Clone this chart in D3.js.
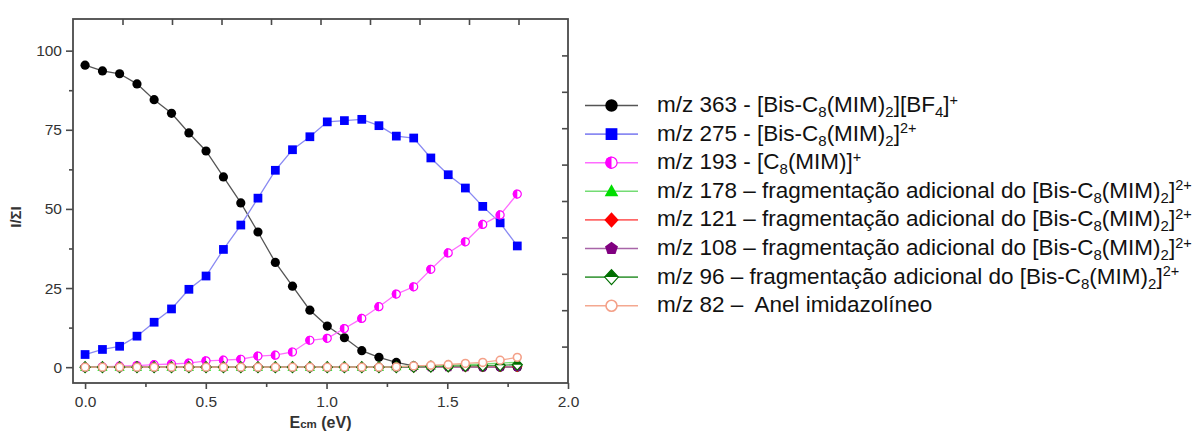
<!DOCTYPE html>
<html><head><meta charset="utf-8">
<script src="https://cdn.jsdelivr.net/npm/d3@7"></script>
<style>body{margin:0;background:#fff}svg{display:block}</style>
</head><body><svg id="c" width="1194" height="433"></svg>
<script>
// ---- data ----
const energies = [0,0.072,0.143,0.215,0.286,0.358,0.430,0.501,0.573,0.645,0.716,0.788,0.859,0.931,1.003,1.074,1.146,1.217,1.289,1.361,1.432,1.504,1.575,1.647,1.719,1.790];
const i363 = [95.4,93.6,92.7,89.5,84.5,80.2,74.0,68.3,60.1,51.9,42.7,33.1,25.6,18.0,13.0,9.3,5.2,3.1,1.5,0.4,0.2,0.1,0.1,0,0,0];
const i275 = [4.0,5.6,6.6,9.8,14.2,18.4,24.6,28.8,37.2,44.9,53.4,62.2,68.7,72.8,77.5,77.9,78.3,76.3,73.0,72.4,66.1,60.8,56.6,50.8,45.6,38.3];
const i193 = [0,0.1,0.3,0.5,0.8,1.0,1.3,2.0,2.2,2.5,3.5,3.8,4.8,8.5,9.1,12.2,15.4,19.1,23.1,25.4,30.9,36.1,39.6,45.1,48.1,54.7];
const i178 = [0,0,0,0,0,0,0,0,0,0,0,0,0,0,0,0,0,0,0.2,0.3,0.4,0.6,0.8,1.0,1.3,1.5];
const i121 = [0,0,0,0,0,0,0,0,0,0,0,0,0,0,0,0,0,0,0,0,0.1,0.1,0.1,0.2,0.2,0.2];
const i108 = [0,0,0,0,0,0,0,0,0,0,0,0,0,0,0,0,0,0,0,0,0,0,0,0,0.1,0.1];
const i96  = [0,0,0,0,0,0,0,0,0,0,0,0,0,0,0,0,0,0,0,0.1,0.2,0.3,0.4,0.5,0.6,0.8];
const i82  = [0,0,0,0,0,0,0,0,0,0,0,0,0,0,0,0,0,0,0.1,0.4,0.6,0.85,1.2,1.5,2.2,3.1];
const legendLabels = [
  "m/z 363 - [Bis-C_{8}(MIM)_{2}][BF_{4}]^{+}",
  "m/z 275 - [Bis-C_{8}(MIM)_{2}]^{2+}",
  "m/z 193 - [C_{8}(MIM)]^{+}",
  "m/z 178 – fragmentação adicional do [Bis-C_{8}(MIM)_{2}]^{2+}",
  "m/z 121 – fragmentação adicional do [Bis-C_{8}(MIM)_{2}]^{2+}",
  "m/z 108 – fragmentação adicional do [Bis-C_{8}(MIM)_{2}]^{2+}",
  "m/z 96 – fragmentação adicional do [Bis-C_{8}(MIM)_{2}]^{2+}",
  "m/z 82 –  Anel imidazolíneo"
];
const xTicks = [0.0,0.5,1.0,1.5,2.0];
const yTicks = [0,25,50,75,100];
const xTitle = ["E","cm"," (eV)"];
const yTitle = "I/ΣI";

// ---- styling ----
const seriesValues = [i363,i275,i193,i178,i121,i108,i96,i82];
const styles = [
  {m:"circle",     c:"#000000", l:"#555555"},
  {m:"square",     c:"#0000ff", l:"#8a8af2"},
  {m:"halfcircle", c:"#ff00ff", l:"#ff6cff"},
  {m:"triangle",   c:"#00dd00", l:"#74dc74"},
  {m:"diamond",    c:"#ff0000", l:"#ff6868"},
  {m:"pentagon",   c:"#800080", l:"#a865a8"},
  {m:"halfdiamond",c:"#006f00", l:"#4aa04a"},
  {m:"opencircle", c:"#f4a088", l:"#f4a890"}
];

const svg = d3.select("#c");
const L=73, R=568, T=19, B=383;
const x = d3.scaleLinear().domain([-0.05,2.0]).range([L,R]);
const y = d3.scaleLinear().domain([-5,110]).range([B,T]);

function marker(g, type, color, r){
  const s = g.append("g");
  if(type==="circle"){ s.append("circle").attr("r",r).attr("fill",color); }
  else if(type==="square"){ const a=r*0.95; s.append("rect").attr("x",-a).attr("y",-a).attr("width",2*a).attr("height",2*a).attr("fill",color); }
  else if(type==="halfcircle"){
    s.append("circle").attr("r",r-0.6).attr("fill","#fff").attr("stroke",color).attr("stroke-width",1.2);
    s.append("path").attr("d",`M0,${-r} A${r},${r} 0 0 0 0,${r} Z`).attr("fill",color);
  }
  else if(type==="triangle"){ s.append("path").attr("d",`M0,${-r*1.15} L${r*1.1},${r*0.8} L${-r*1.1},${r*0.8} Z`).attr("fill",color); }
  else if(type==="diamond"){ s.append("path").attr("d",`M0,${-r*1.25} L${r*1.15},0 L0,${r*1.25} L${-r*1.15},0 Z`).attr("fill",color); }
  else if(type==="pentagon"){
    const pts=d3.range(5).map(k=>{const a=-Math.PI/2+k*2*Math.PI/5;return [Math.cos(a)*r*1.1,Math.sin(a)*r*1.1];});
    s.append("path").attr("d","M"+pts.map(p=>p.join(",")).join("L")+"Z").attr("fill",color);
  }
  else if(type==="halfdiamond"){
    const a=r*1.2,b=r*1.1;
    s.append("path").attr("d",`M0,${-a} L${b},0 L0,${a} L${-b},0 Z`).attr("fill","#fff").attr("stroke",color).attr("stroke-width",1.2);
    s.append("path").attr("d",`M0,${-a} L${b},0 L${-b},0 Z`).attr("fill",color);
  }
  else if(type==="opencircle"){ s.append("circle").attr("r",r-0.7).attr("fill","#fff").attr("stroke",color).attr("stroke-width",1.6); }
  return s;
}

// ---- series ----
const plot = svg.append("g");
const line = d3.line().x((d,i)=>x(energies[i])).y(d=>y(d));
seriesValues.forEach((vals,k)=>{
  const st=styles[k];
  plot.append("path").datum(vals).attr("d",line).attr("fill","none").attr("stroke",st.l).attr("stroke-width",1.3);
});
seriesValues.forEach((vals,k)=>{
  const st=styles[k];
  vals.forEach((v,i)=>{
    marker(plot, st.m, st.c, 4.6).attr("transform",`translate(${x(energies[i])},${y(v)})`);
  });
});

// ---- frame and axes ----
const axisColor="#4a4a4a";
svg.append("rect").attr("x",L).attr("y",T).attr("width",R-L).attr("height",B-T)
  .attr("fill","none").attr("stroke",axisColor).attr("stroke-width",1.8);

const gx = svg.append("g").attr("transform",`translate(0,${B})`)
  .call(d3.axisBottom(x).tickValues(xTicks).tickFormat(d3.format(".1f")).tickSize(6).tickPadding(7));
const gxm = svg.append("g").attr("transform",`translate(0,${B})`)
  .call(d3.axisBottom(x).tickValues([0.25,0.75,1.25,1.75]).tickFormat("").tickSize(4));
const gy = svg.append("g").attr("transform",`translate(${L},0)`)
  .call(d3.axisLeft(y).tickValues(yTicks).tickSize(7).tickPadding(4));
const gym = svg.append("g").attr("transform",`translate(${L},0)`)
  .call(d3.axisLeft(y).tickValues([12.5,37.5,62.5,87.5]).tickFormat("").tickSize(4));
// top and right inward ticks (10 divisions)
const xt = d3.scaleLinear().domain([0,10]).range([L,R]);
const yr = d3.scaleLinear().domain([0,10]).range([B,T]);
const gt = svg.append("g").attr("transform",`translate(0,${T})`)
  .call(d3.axisBottom(xt).tickValues(d3.range(1,10)).tickFormat("").tickSize(6));
const gr = svg.append("g").attr("transform",`translate(${R},0)`)
  .call(d3.axisLeft(yr).tickValues(d3.range(1,10)).tickFormat("").tickSize(6));
[gx,gxm,gy,gym,gt,gr].forEach(g=>{
  g.select(".domain").remove();
  g.selectAll("line").attr("stroke",axisColor).attr("stroke-width",1.6);
  g.selectAll("text").attr("fill","#333").style("font-family","Liberation Sans, Arial, sans-serif").style("font-size","15.5px");
});

// axis titles
const xt1 = svg.append("text").attr("x",(L+R)/2).attr("y",428).attr("text-anchor","middle")
  .style("font-family","Liberation Sans, Arial, sans-serif").style("font-weight","bold").attr("fill","#333");
xt1.append("tspan").style("font-size","16px").text(xTitle[0]);
xt1.append("tspan").style("font-size","11.5px").text(xTitle[1]);
xt1.append("tspan").style("font-size","16px").text(xTitle[2]);
svg.append("text").attr("transform","translate(21,217) rotate(-90)").attr("text-anchor","middle")
  .style("font-family","Liberation Sans, Arial, sans-serif").style("font-weight","bold").style("font-size","15px")
  .attr("fill","#333").text(yTitle);

// ---- legend ----
const leg = svg.append("g");
const rowY0 = 105.5, rowDY = 28.6;
legendLabels.forEach((lab,k)=>{
  const st=styles[k];
  const cy=rowY0+k*rowDY;
  leg.append("line").attr("x1",585).attr("x2",638).attr("y1",cy).attr("y2",cy).attr("stroke",st.l).attr("stroke-width",1.6);
  marker(leg, st.m, st.c, 6.2).attr("transform",`translate(611.5,${cy})`);
  const t = leg.append("text").attr("x",657).attr("y",cy+6.5)
    .style("font-family","Liberation Sans, Arial, sans-serif").style("font-size","22.5px")
    .style("white-space","pre").attr("fill","#111");
  const parts = lab.split(/(_\{[^}]*\}|\^\{[^}]*\})/).filter(p=>p.length);
  let off=0;
  parts.forEach(p=>{
    let shift=0, size="22.5px", txt=p;
    if(p.startsWith("_{")){ shift=5; size="15px"; txt=p.slice(2,-1); }
    else if(p.startsWith("^{")){ shift=-7.5; size="14.5px"; txt=p.slice(2,-1); }
    t.append("tspan").attr("dy",shift-off).style("font-size",size).text(txt);
    off=shift;
  });
});
</script></body></html>
